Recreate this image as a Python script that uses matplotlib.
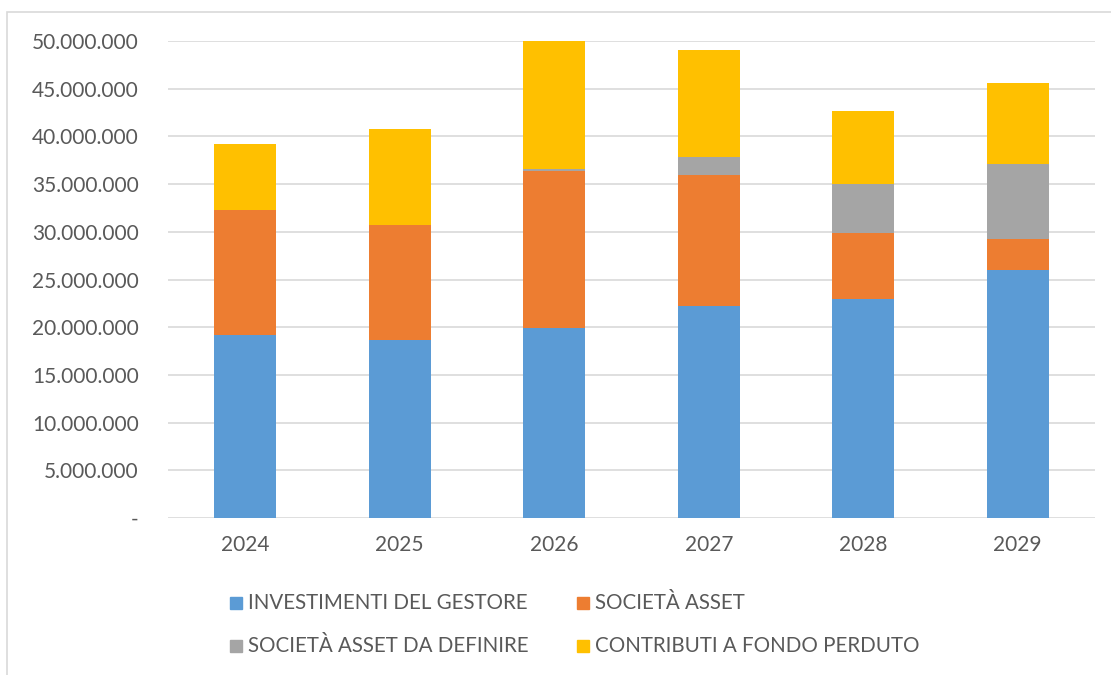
import matplotlib
matplotlib.use("Agg")
import matplotlib.pyplot as plt
from matplotlib.patches import Rectangle
from matplotlib.ticker import FuncFormatter, MultipleLocator

years = ["2024", "2025", "2026", "2027", "2028", "2029"]
investimenti = [19150000, 18660000, 19950000, 22200000, 22920000, 25960000]
societa_asset = [13150000, 12040000, 16450000, 13800000, 6920000, 3240000]
societa_da_definire = [0, 0, 200000, 1870000, 5160000, 7900000]
contributi = [6900000, 10100000, 13400000, 11190000, 7660000, 8500000]

series_labels = ["INVESTIMENTI DEL GESTORE", "SOCIETÀ ASSET",
                 "SOCIETÀ ASSET DA DEFINIRE", "CONTRIBUTI A FONDO PERDUTO"]
colors = ["#5B9BD5", "#ED7D31", "#A5A5A5", "#FFC000"]

plt.rcParams['font.family'] = ['Lato', 'DejaVu Sans']
text_color = "#595959"

W, H = 1111, 675
fig = plt.figure(figsize=(W / 100, H / 100), dpi=100)
ax = fig.add_axes([168 / W, 1 - 518 / H, (1095 - 168) / W, (518 - 41) / H])

x = list(range(len(years)))
bottom = [0] * len(years)
for vals, col, lab in zip([investimenti, societa_asset, societa_da_definire, contributi],
                          colors, series_labels):
    ax.bar(x, vals, width=0.4, bottom=bottom, color=col, label=lab, zorder=3)
    bottom = [b + v for b, v in zip(bottom, vals)]

ax.set_xlim(-0.5, len(years) - 0.5)
ax.set_ylim(0, 50000000)
ax.yaxis.set_major_locator(MultipleLocator(5000000))
ax.yaxis.set_major_formatter(FuncFormatter(
    lambda v, p: "-" if v == 0 else f"{int(round(v)):,}".replace(",", ".")))
ax.set_xticks(x)
ax.set_xticklabels(years)
ax.tick_params(axis="both", length=0, labelsize=15, colors=text_color)
ax.tick_params(axis="y", pad=21)
ax.tick_params(axis="x", pad=12)
ax.grid(axis="y", color="#D9D9D9", linewidth=1.2, zorder=0)
for s in ax.spines.values():
    s.set_visible(False)

# legend (manual placement, two rows)
pos = [(230, 603), (577, 603), (230, 646), (577, 646)]
for (px, py), col, lab in zip(pos, colors, series_labels):
    fig.patches.append(Rectangle((px / W, 1 - (py + 6) / H), 12 / W, 12 / H,
                                 transform=fig.transFigure, color=col))
    fig.text((px + 18) / W, 1 - py / H, lab, fontsize=14.8, color=text_color,
             va="center", ha="left")

# outer chart frame
fig.patches.append(Rectangle((7 / W, -0.05), 1.2, 1 - 12 / H + 0.05,
                             transform=fig.transFigure, fill=False,
                             edgecolor="#D9D9D9", linewidth=1.2))

fig.savefig("out.png", dpi=100)
